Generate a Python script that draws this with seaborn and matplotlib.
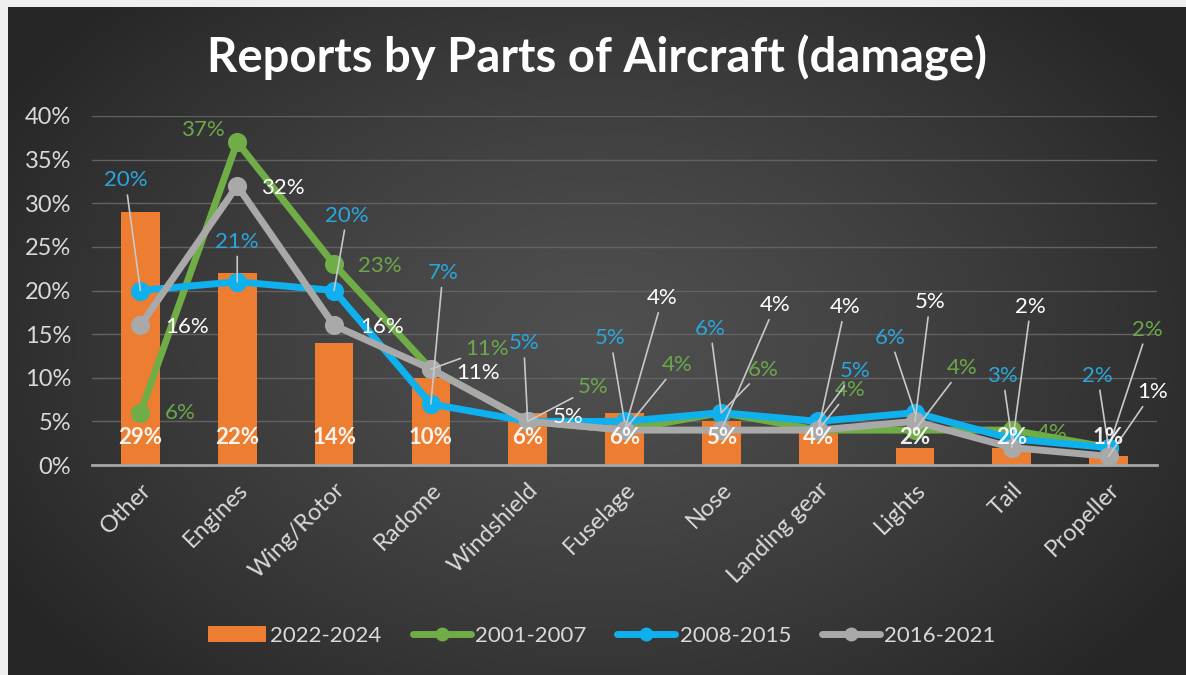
import numpy as np
import pandas as pd
import matplotlib
matplotlib.use("Agg")
import matplotlib.pyplot as plt
import seaborn as sns
from matplotlib.patches import Patch
from matplotlib.lines import Line2D

# --- data ---
parts = ["Other", "Engines", "Wing/Rotor", "Radome", "Windshield", "Fuselage",
         "Nose", "Landing gear", "Lights", "Tail", "Propeller"]
p2022_2024 = [0.29, 0.22, 0.14, 0.10, 0.06, 0.06, 0.05, 0.04, 0.02, 0.02, 0.01]
p2001_2007 = [0.06, 0.37, 0.23, 0.11, 0.05, 0.04, 0.06, 0.04, 0.04, 0.04, 0.02]
p2008_2015 = [0.20, 0.21, 0.20, 0.07, 0.05, 0.05, 0.06, 0.05, 0.06, 0.03, 0.02]
p2016_2021 = [0.16, 0.32, 0.16, 0.11, 0.05, 0.04, 0.04, 0.04, 0.05, 0.02, 0.01]

# label offsets (pixels) for the data labels of each line
off_green = [(40, 0), (-34, 12), (46, -2), (56, 20), (65, 34), (53, 65),
             (42, 43), (32, 40), (47, 62), (40, -3), (39, 118)]
off_blue = [(-15, 110), (0, 40), (13, 75), (12, 131), (-4, 78), (-14, 83),
            (-11, 84), (37, 50), (-25, 75), (-9, 63), (-11, 72)]
off_grey = [(47, -2), (46, -2), (48, -2), (47, -4), (40, 4), (38, 132),
            (54, 125), (27, 123), (15, 119), (19, 141), (44, 64)]

ORANGE = "#ED7D31"
GREEN = "#70AD47"
BLUE = "#0FB0EE"
GREY = "#A9A9A9"
GREEN_TXT = "#6BA84A"
BLUE_TXT = "#2AA6DC"
LEADER = "#C8C8C8"
TICK = "#D9D9D9"

sns.set_style("dark")
plt.rcParams["font.family"] = ["Lato", "DejaVu Sans"]

W, H = 1186, 675
fig = plt.figure(figsize=(W / 100, H / 100), dpi=100)
fig.patch.set_facecolor("#EFEFEF")

# dark radial background
bg = fig.add_axes([8 / W, 0, 1 - 8 / W, 668 / H], zorder=-10)
yy, xx = np.mgrid[0:1:300j, 0:1:500j]
r = np.sqrt(((xx - 0.5) / 0.62) ** 2 + ((yy - 0.5) / 0.75) ** 2)
shade = np.clip(0.31 - 0.17 * r ** 1.3, 0.15, 0.31)
bg.imshow(np.dstack([shade] * 3), aspect="auto", extent=[0, 1, 0, 1])
bg.axis("off")

ax = fig.add_axes([92 / W, 210 / H, 1065 / W, 349 / H])
ax.set_facecolor("none")

bars = pd.DataFrame({"part": parts, "value": p2022_2024})
sns.barplot(data=bars, x="part", y="value", color=ORANGE, width=0.4,
            saturation=1, edgecolor="none", linewidth=0, ax=ax, zorder=2)

series = [("2001-2007", p2001_2007, GREEN, GREEN_TXT, off_green),
          ("2008-2015", p2008_2015, BLUE, BLUE_TXT, off_blue),
          ("2016-2021", p2016_2021, GREY, "#FFFFFF", off_grey)]

for name, vals, col, tcol, offs in series:
    df = pd.DataFrame({"part": parts, "value": vals})
    sns.pointplot(data=df, x="part", y="value", color=col, markers="o",
                  linewidth=5, markersize=10, ax=ax, zorder=3)

for k, (name, vals, col, tcol, offs) in enumerate(series):
    for i, (v, (dx, dy)) in enumerate(zip(vals, offs)):
        arrow = None
        if abs(dy) >= 15:
            arrow = dict(arrowstyle="-", color=LEADER, lw=1.2, shrinkA=1, shrinkB=0)
        ax.annotate(f"{v:.0%}", xy=(i, v), xytext=(dx, dy),
                    textcoords="offset pixels", ha="center", va="center",
                    color=tcol, fontsize=16, arrowprops=arrow, zorder=6)

for i, v in enumerate(p2022_2024):
    ax.annotate(f"{v:.0%}", xy=(i, 0), xytext=(0, 28), textcoords="offset pixels",
                ha="center", va="center", color="#FFFFFF", fontsize=16,
                fontweight="bold", alpha=0.92, zorder=7)

ax.set_ylim(0, 0.40)
ax.set_xlim(-0.5, len(parts) - 0.5)
ax.set_yticks(np.arange(0, 0.41, 0.05))
ax.set_yticklabels([f"{t:.0%}" for t in np.arange(0, 0.41, 0.05)])
ax.yaxis.grid(True, color="#626262", lw=1)
ax.xaxis.grid(False)
ax.set_axisbelow(True)
ax.set_xlabel("")
ax.set_ylabel("")
for s in ["top", "right", "left"]:
    ax.spines[s].set_visible(False)
ax.spines["bottom"].set_color("#A6A6A6")
ax.spines["bottom"].set_linewidth(2)
ax.tick_params(axis="y", colors=TICK, labelsize=17, length=0, pad=15)
ax.tick_params(axis="x", colors=TICK, labelsize=17, length=0, pad=10)
plt.setp(ax.get_xticklabels(), rotation=45, ha="right", rotation_mode="anchor")

fig.text(0.503, 1 - 58 / H, "Reports by Parts of Aircraft (damage)", ha="center",
         va="center", color="#FFFFFF", fontsize=34, fontweight="bold")

handles = [Patch(facecolor=ORANGE, edgecolor="none", label="2022-2024"),
           Line2D([], [], color=GREEN, lw=5, marker="o", ms=9, label="2001-2007"),
           Line2D([], [], color=BLUE, lw=5, marker="o", ms=9, label="2008-2015"),
           Line2D([], [], color=GREY, lw=5, marker="o", ms=9, label="2016-2021")]
leg = fig.legend(handles=handles, loc="center", bbox_to_anchor=(602 / W, 1 - 636 / H),
                 ncol=4, frameon=False, fontsize=16, handlelength=2.6,
                 handletextpad=0.2, columnspacing=1.4)
for t in leg.get_texts():
    t.set_color(TICK)

fig.savefig("out.png", dpi=100, facecolor=fig.get_facecolor())
